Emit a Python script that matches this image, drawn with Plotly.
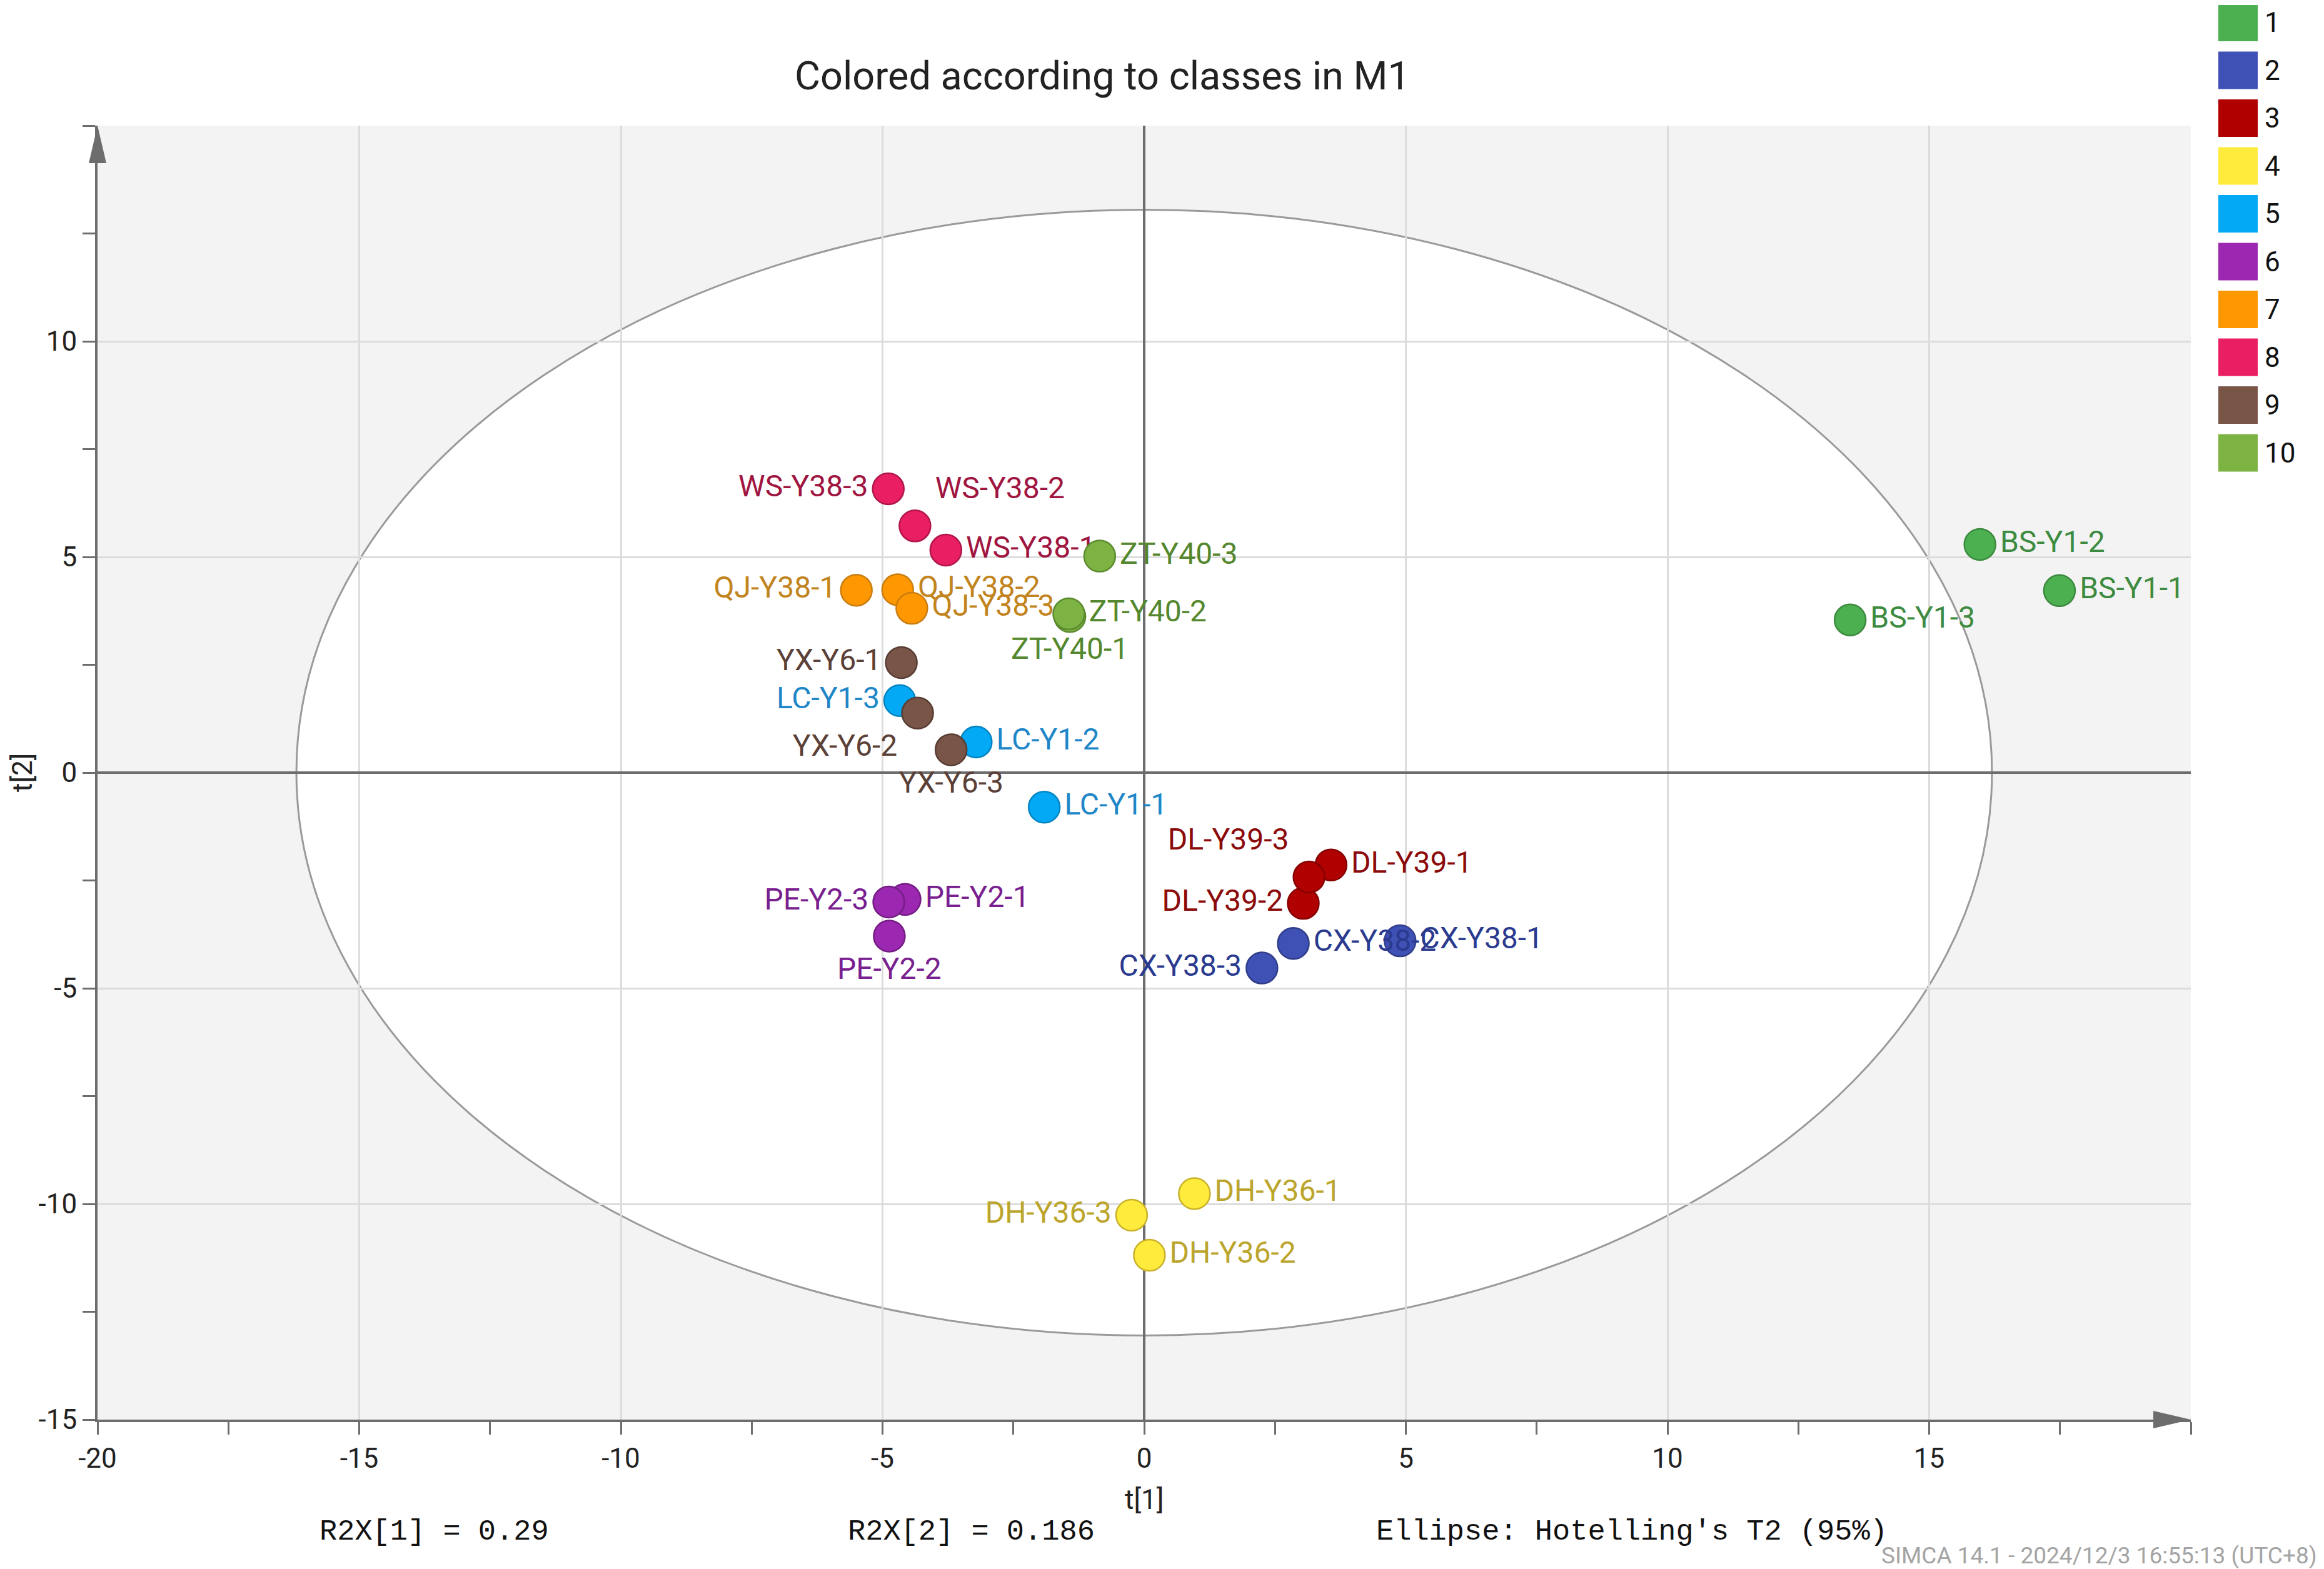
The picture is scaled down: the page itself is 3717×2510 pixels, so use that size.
import plotly.graph_objects as go

# PCA score plot (SIMCA M1), t[1] vs t[2]
samples = ['BS-Y1-1', 'BS-Y1-2', 'BS-Y1-3',
           'CX-Y38-1', 'CX-Y38-2', 'CX-Y38-3',
           'DL-Y39-1', 'DL-Y39-2', 'DL-Y39-3',
           'DH-Y36-1', 'DH-Y36-2', 'DH-Y36-3',
           'LC-Y1-1', 'LC-Y1-2', 'LC-Y1-3',
           'PE-Y2-1', 'PE-Y2-2', 'PE-Y2-3',
           'QJ-Y38-1', 'QJ-Y38-2', 'QJ-Y38-3',
           'WS-Y38-1', 'WS-Y38-2', 'WS-Y38-3',
           'YX-Y6-1', 'YX-Y6-2', 'YX-Y6-3',
           'ZT-Y40-1', 'ZT-Y40-2', 'ZT-Y40-3']
t1 = [17.49, 15.97, 13.49,
      4.89, 2.85, 2.25,
      3.57, 3.04, 3.15,
      0.96, 0.10, -0.24,
      -1.91, -3.21, -4.67,
      -4.57, -4.87, -4.88,
      -5.50, -4.71, -4.44,
      -3.79, -4.38, -4.89,
      -4.64, -4.33, -3.69,
      -1.42, -1.44, -0.85]
t2 = [4.22, 5.29, 3.54,
      -3.90, -3.96, -4.53,
      -2.14, -3.03, -2.42,
      -9.76, -11.19, -10.26,
      -0.80, 0.71, 1.67,
      -2.94, -3.79, -3.00,
      4.23, 4.24, 3.81,
      5.16, 5.72, 6.58,
      2.55, 1.38, 0.53,
      3.62, 3.68, 5.02]
sample_class = [1, 1, 1, 2, 2, 2, 3, 3, 3, 4, 4, 4, 5, 5, 5,
                6, 6, 6, 7, 7, 7, 8, 8, 8, 9, 9, 9, 10, 10, 10]

classes = [1, 2, 3, 4, 5, 6, 7, 8, 9, 10]

# Hotelling's T2 (95%) ellipse semi-axes
t2crit_t1 = 16.2
t2crit_t2 = 13.05

x_tickvals = [-20, -15, -10, -5, 0, 5, 10, 15]
x_ticktext = ['-20', '-15', '-10', '-5', '0', '5', '10', '15']
y_tickvals = [-15, -10, -5, 0, 5, 10]
y_ticktext = ['-15', '-10', '-5', '0', '5', '10']

r2x_1 = 0.29
r2x_2 = 0.186

# styles
fill_col = {1: '#4caf50', 2: '#3f51b5', 3: '#b00000', 4: '#ffeb3b', 5: '#03a9f4',
            6: '#9c27b0', 7: '#ff9800', 8: '#e91e63', 9: '#795548', 10: '#7cb342'}
edge_col = {1: '#3b8a3e', 2: '#2f3d8a', 3: '#850000', 4: '#c9b22a', 5: '#0285c2',
            6: '#741d84', 7: '#c87d10', 8: '#b0164b', 9: '#573d33', 10: '#5c8a2f'}
text_col = {1: '#3d8b40', 2: '#2a3a8f', 3: '#8b0a0a', 4: '#bca52c', 5: '#1f87c8',
            6: '#7a1f8f', 7: '#c2841e', 8: '#a0153f', 9: '#5b4037', 10: '#55882e'}
label_pos = {
    'BS-Y1-1': 'middle right', 'BS-Y1-2': 'middle right', 'BS-Y1-3': 'middle right',
    'CX-Y38-1': 'middle right', 'CX-Y38-2': 'middle right', 'CX-Y38-3': 'middle left',
    'DL-Y39-1': 'middle right', 'DL-Y39-2': 'middle left', 'DL-Y39-3': 'top left',
    'DH-Y36-1': 'middle right', 'DH-Y36-2': 'middle right', 'DH-Y36-3': 'middle left',
    'LC-Y1-1': 'middle right', 'LC-Y1-2': 'middle right', 'LC-Y1-3': 'middle left',
    'PE-Y2-1': 'middle right', 'PE-Y2-2': 'bottom center', 'PE-Y2-3': 'middle left',
    'QJ-Y38-1': 'middle left', 'QJ-Y38-2': 'middle right', 'QJ-Y38-3': 'middle right',
    'WS-Y38-1': 'middle right', 'WS-Y38-2': 'top right', 'WS-Y38-3': 'middle left',
    'YX-Y6-1': 'middle left', 'YX-Y6-2': 'bottom left', 'YX-Y6-3': 'bottom center',
    'ZT-Y40-1': 'bottom center', 'ZT-Y40-2': 'middle right', 'ZT-Y40-3': 'middle right',
}

font_main = 'Roboto'
axis_grey = '#6d6d6d'
page_pad = 8  # default body margin of the html page

fig = go.Figure()

for c in classes:
    idx = [i for i, k in enumerate(sample_class) if k == c]
    fig.add_trace(go.Scatter(
        x=[t1[i] for i in idx],
        y=[t2[i] for i in idx],
        text=[samples[i] for i in idx],
        mode='markers+text',
        textposition=[label_pos[samples[i]] for i in idx],
        textfont=dict(family=font_main, size=48, color=text_col[c]),
        marker=dict(size=50, color=fill_col[c], line=dict(color=edge_col[c], width=2.5)),
        name=str(c),
        showlegend=False,
        cliponaxis=False
    ))

# ellipse: white inside, grey outside (plot background)
fig.add_shape(type='circle', xref='x', yref='y',
              x0=-t2crit_t1, x1=t2crit_t1, y0=-t2crit_t2, y1=t2crit_t2,
              fillcolor='white', line=dict(color='#9a9a9a', width=3), layer='below')

# axis arrows
fig.add_shape(type='path', xref='x domain', yref='y domain',
              xsizemode='pixel', ysizemode='pixel', xanchor=1, yanchor=0,
              path='M 0 0 L -60 14 L -60 -14 Z',
              fillcolor=axis_grey, line=dict(width=0))
fig.add_shape(type='path', xref='x domain', yref='y domain',
              xsizemode='pixel', ysizemode='pixel', xanchor=0, yanchor=1,
              path='M 0 0 L -14 -60 L 14 -60 Z',
              fillcolor=axis_grey, line=dict(width=0))

# manual class legend
for i, c in enumerate(classes):
    top = 195 - i * 76.5
    fig.add_shape(type='rect', xref='paper', yref='paper',
                  xsizemode='pixel', ysizemode='pixel', xanchor=1, yanchor=1,
                  x0=44, x1=107, y0=top, y1=top - 60,
                  fillcolor=fill_col[c], line=dict(width=0))
    fig.add_annotation(xref='paper', yref='paper', x=1, y=1, xanchor='left', yanchor='middle',
                       xshift=116, yshift=top - 30, text=str(c), showarrow=False,
                       font=dict(family=font_main, size=44, color='#111111'))

fig.add_annotation(xref='paper', yref='paper', x=0.5, y=0, yshift=-128,
                   xanchor='center', yanchor='middle',
                   text='t[1]', showarrow=False, font=dict(family=font_main, size=44, color='#222222'))
fig.add_annotation(xref='paper', yref='paper', x=0, y=0.5, xshift=-120,
                   xanchor='center', yanchor='middle',
                   text='t[2]', textangle=-90, showarrow=False,
                   font=dict(family=font_main, size=44, color='#222222'))

mono = dict(family='Liberation Mono', size=47, color='#111111')
fig.add_annotation(xref='paper', yref='paper', x=0.1607, y=0, yshift=-179,
                   xanchor='center', yanchor='middle',
                   text='R2X[1] = %s' % r2x_1, showarrow=False, font=mono)
fig.add_annotation(xref='paper', yref='paper', x=0.4173, y=0, yshift=-179,
                   xanchor='center', yanchor='middle',
                   text='R2X[2] = %s' % r2x_2, showarrow=False, font=mono)
fig.add_annotation(xref='paper', yref='paper', x=0.7330, y=0, yshift=-179,
                   xanchor='center', yanchor='middle',
                   text="Ellipse: Hotelling's T2 (95%)", showarrow=False, font=mono)
fig.add_annotation(xref='paper', yref='paper', x=1, y=0, xshift=204, yshift=-217,
                   xanchor='right', yanchor='middle',
                   text='SIMCA 14.1 - 2024/12/3 16:55:13 (UTC+8)', showarrow=False,
                   font=dict(family=font_main, size=37, color='#a4a4a4'))

fig.update_xaxes(range=[-20, 20], tickvals=x_tickvals, ticktext=x_ticktext,
                 ticks='outside', ticklen=20, tickwidth=3, tickcolor=axis_grey,
                 showline=True, linecolor=axis_grey, linewidth=4,
                 showgrid=True, gridcolor='#dcdcdc', gridwidth=3,
                 zeroline=True, zerolinecolor=axis_grey, zerolinewidth=4,
                 minor=dict(dtick=2.5, tick0=0, ticks='outside', ticklen=20, tickwidth=3,
                            tickcolor=axis_grey, showgrid=False),
                 tickfont=dict(family=font_main, size=44, color='#222222'))
fig.update_yaxes(range=[-15, 15], tickvals=y_tickvals, ticktext=y_ticktext,
                 ticks='outside', ticklen=20, tickwidth=3, tickcolor=axis_grey,
                 showline=True, linecolor=axis_grey, linewidth=4,
                 showgrid=True, gridcolor='#dcdcdc', gridwidth=3,
                 zeroline=True, zerolinecolor=axis_grey, zerolinewidth=4,
                 minor=dict(dtick=2.5, tick0=0, ticks='outside', ticklen=20, tickwidth=3,
                            tickcolor=axis_grey, showgrid=False),
                 tickfont=dict(family=font_main, size=44, color='#222222'))

fig_w = 3717 - page_pad
fig_h = 2510 - page_pad
fig.update_layout(
    width=fig_w, height=fig_h,
    margin=dict(l=156 - page_pad, r=213, t=201 - page_pad, b=239, autoexpand=False),
    paper_bgcolor='white',
    plot_bgcolor='#f3f3f3',
    title=dict(text='Colored according to classes in M1',
               x=(1763 - page_pad) / fig_w, y=1 - (121 - page_pad) / fig_h,
               xanchor='center', yanchor='middle',
               font=dict(family=font_main, size=63, color='#222222')),
    showlegend=False
)

fig.write_html("out.html")
